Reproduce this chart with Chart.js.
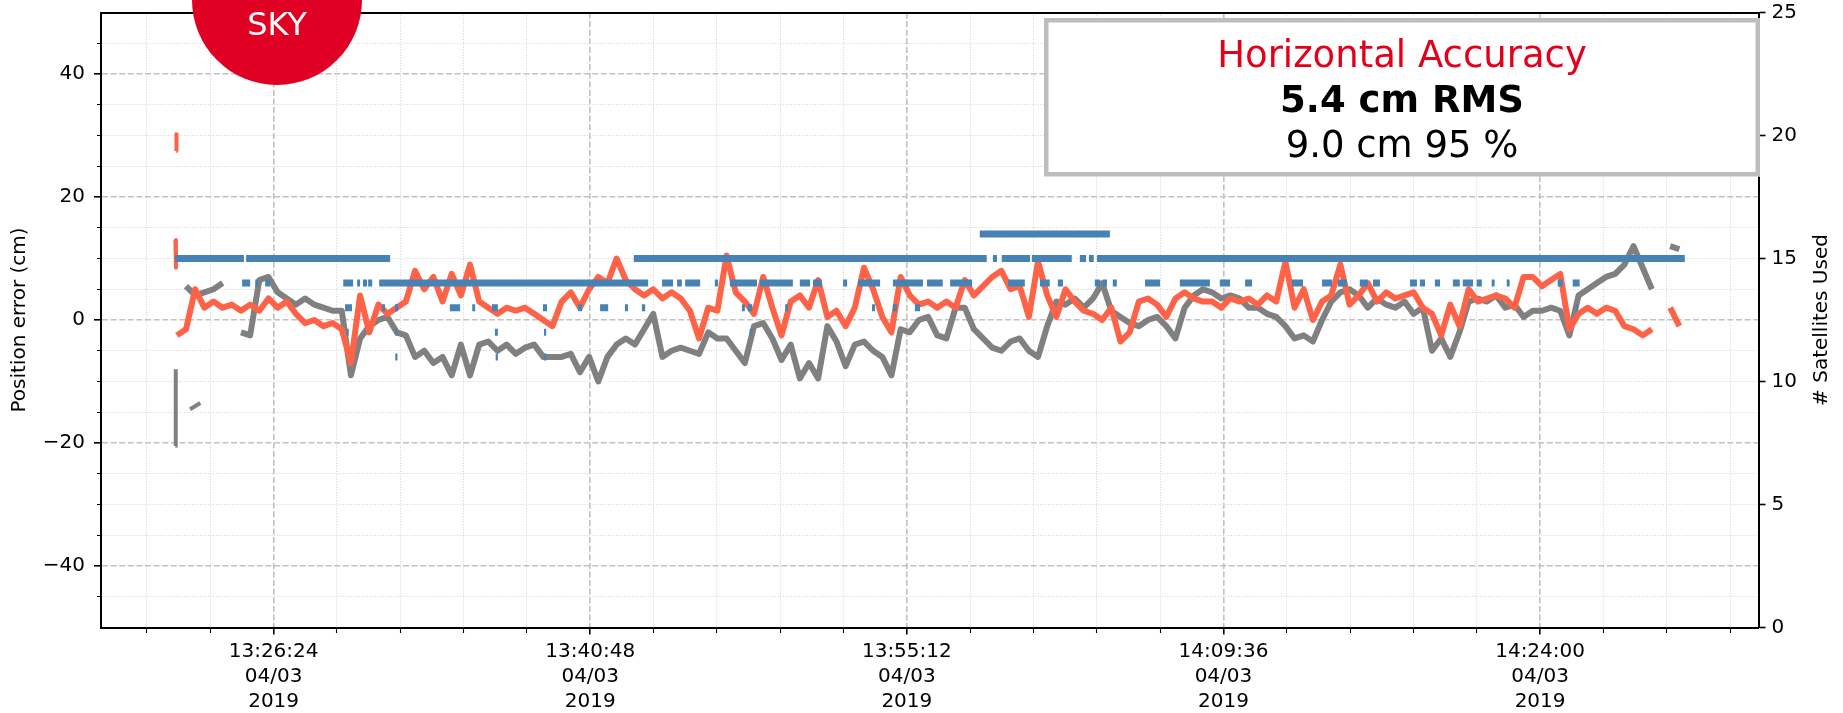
<!DOCTYPE html>
<html><head><meta charset="utf-8">
<script src="https://cdn.jsdelivr.net/npm/chart.js@4.4.1/dist/chart.umd.min.js"></script>
<style>html,body{margin:0;padding:0;background:#fff;}#wrap{position:relative;width:1843px;height:713px;}</style>
</head><body><div id="wrap"><canvas id="c"></canvas></div>
<script>
// ---------- data (time in seconds since midnight, 04/03/2019) ----------
const X_MIN = 47913, X_MAX = 52436;          // axis limits
const MAJOR_T0 = 48384, MAJOR_STEP = 864;    // 13:26:24, every 14:24
const MINOR_STEP = 172.8;
const dateLines = ['04/03', '2019'];
const yMajorTicks = [-40, -20, 0, 20, 40];
const yTickValues = [-45,-40,-35,-30,-25,-20,-15,-10,-5,0,5,10,15,20,25,30,35,40,45];
const satTickValues = [0, 5, 10, 15, 20, 25];

// sampled error series, one value every T_STEP seconds from T_START
const T_START = 48120, T_STEP = 25;
const grayErr = [
  null,5.5,4,4.5,5,6,null,-2,-2.5,6.5,
  7,4.5,3.5,2.5,3.5,2.5,2,1.5,1.5,-9,
  -3,-1,0,0.5,-2,-2.5,-6,-5,-7,-6,
  -9,-4,-9,-4,-3.5,-5,-4,-5.5,-4.5,-4,
  -6,-6,-6,-5.5,-8.5,-6,-10,-6,-4,-3,
  -4,-1.5,1,-6,-5,-4.5,-5,-5.5,-2,-3,
  -3,-5,-7,-1,-0.5,-3,-6.5,-4,-9.5,-7,
  -9.5,-1,-3.5,-7.5,-4,-3.5,-5,-6,-9,-1.5,
  -2,0,0.5,-2.5,-3,2,2,-1.5,-3,-4.5,
  -5,-3.5,-3,-5,-6,-1,3,2.5,3.5,2,
  3.5,6,1.5,0.5,-0.5,-1,0,0.5,-1,-3,
  2,4,5,4.5,3.5,4,3.5,2,2,1,
  0.5,-1,-3,-2.5,-3.5,0,3,4.5,5,4,
  2,3.5,2.5,2,3,1,2,-5,-3,-6,
  -2,3,3.5,3,4,2,2.5,0.5,1.5,1.5,
  2,1.5,-2.5,4,5,6,7,7.5,9,12,
  8.5,5,null,12,11.5
];
const orangeErr = [
  -2.5,-1.5,5,2,3,2,2.5,1.5,2.5,1.5,
  3.5,2,3,1,-0.5,0,-1,-0.5,-1.5,-7,
  4,-2,2.5,1,2,3,8,5,7,3,
  7.5,4,9,3,2,1,2,1.5,2,1,
  0,-1,3,4.5,2,5,7,6,10,6.5,
  5,4,5,3.5,4.5,3.5,1.5,-3,2,1.5,
  10.5,4.5,3,1,7,2,-2.5,3,4,2,
  6.5,0.5,1.5,-1,2,8.5,5,0.5,-2,7,
  4,2.5,3,2,3,2,6.5,4,5.5,7,
  8,5,5.5,0.5,9.5,4,0.5,5,3,1.5,
  1,0,2,-3.5,-2,3,3.5,2.5,0.5,3.5,
  4.5,3.5,3,3,2,3.5,3,3.5,2.5,4,
  3,9.5,2,5,0,3,4,9,2.5,4,
  6,3,4.5,3.5,4,4.5,2,1,-2.5,2.5,
  -1,5,3,3.5,4,3.5,2,7,7,5.5,
  6.5,7.5,-1.5,1,2,1,2,1.5,-1,-1.5,
  -2.5,-1.5,null,2,-1
];
// short isolated fragments at the start of the record [time, value]
const grayFragments = [[[48116,-20.5],[48117,-8]], [[48156,-14.5],[48184,-13.5]]];
const orangeFragments = [[[48118.5,27.5],[48119,30.5]], [[48116,13],[48117.5,8.5]]];

// satellites used: runs [start, end] at each count
const sat16 = [[50311,50666]];
const sat15 = [[48115,48303],[48309,48702],[49367,50330],[50347,50358],[50371,50448],[50453,50562],[50584,50601],[50609,50622],[50631,52235]];
const sat14 = [[48298,48320],[48334,48342],[48361,48374],[48574,48601],[48612,48620],[48628,48639],[48642,48653],[48672,49406],[49444,49474],[49485,49498],[49507,49548],[49588,49597],[49629,49703],[49711,49801],[49820,49848],[49856,49880],[49938,49949],[49979,50039],[50074,50156],[50167,50210],[50230,50290],[50388,50434],[50475,50502],[50524,50538],[50625,50639],[50647,50658],[50674,50685],[50762,50803],[50857,50939],[50966,50994],[51035,51054],[51163,51193],[51245,51272],[51288,51313],[51348,51370],[51384,51403],[51485,51504],[51512,51526],[51553,51567],[51602,51621],[51629,51657],[51667,51681],[51708,51716],[51749,51757],[51888,51902],[51929,51948]];
const sat13 = [[48579,48598],[48680,48688],[48715,48724],[48865,48893],[48926,48934],[48980,48996],[49119,49130],[49215,49226],[49275,49297],[49343,49351],[49389,49398],[49662,49670],[49678,49690],[49780,49788],[50017,50025],[50074,50085],[50134,50148],[51938,51943]];
const sat12 = [[48584,48589],[48716,48722],[48988,48996],[49122,49128],[49683,49689]];
const sat11 = [[48716,48722],[48990,48996],[49122,49128]];

// ---------- build datasets ----------
const FONT = "'DejaVu Sans', 'Liberation Sans', sans-serif";
Chart.defaults.font.family = FONT;
Chart.defaults.color = '#000';

const seriesPoints = arr => arr.map((v, i) => ({x: T_START + i * T_STEP, y: v}));
const fragmentPoints = frags => {
  const pts = [];
  frags.forEach(seg => { seg.forEach(([t, v]) => pts.push({x: t, y: v})); pts.push({x: seg[seg.length-1][0], y: null}); });
  return pts;
};
const satRuns = [];
[[16,sat16],[15,sat15],[14,sat14],[13,sat13],[12,sat12],[11,sat11]].forEach(([n, runs]) =>
  runs.forEach(([a, b]) => satRuns.push([a, b, n])));
satRuns.sort((p, q) => p[0] - q[0]);
const satPoints = [];
satRuns.forEach(([a, b, n]) => { satPoints.push({x: a, y: n}, {x: b, y: n}, {x: b, y: null}); });

const isMajorX = v => { const k = (v - MAJOR_T0) / MAJOR_STEP; return Math.abs(k - Math.round(k)) < 1e-6; };
const isMajorY = v => yMajorTicks.includes(v);
const pad2 = n => String(n).padStart(2, '0');
const hms = v => { const s = Math.round(v); return pad2(Math.floor(s/3600)) + ':' + pad2(Math.floor(s/60)%60) + ':' + pad2(s%60); };

const xTickValues = [];
for (let t = MAJOR_T0 - 3*MINOR_STEP; t <= X_MAX; t += MINOR_STEP) if (t >= X_MIN) xTickValues.push(Math.round(t*10)/10);

const noPad = s => { s.paddingTop = 0; s.paddingBottom = 0; s.paddingLeft = 0; s.paddingRight = 0; };

const lineBase = {pointRadius: 0, pointHoverRadius: 0, spanGaps: false, tension: 0, borderJoinStyle: 'round', borderCapStyle: 'butt', xAxisID: 'x', yAxisID: 'y', fill: false};

const overlay = {
  id: 'overlay',
  afterDraw(chart) {
    const ctx = chart.ctx, ca = chart.chartArea;
    // right axis title
    ctx.save();
    ctx.translate(chart.scales.y1.right - 21.5, (ca.top + ca.bottom) / 2);
    ctx.rotate(-Math.PI / 2);
    ctx.font = '20px ' + FONT; ctx.fillStyle = '#000'; ctx.textAlign = 'center'; ctx.textBaseline = 'middle';
    ctx.fillText('# Satellites Used', 0, 0);
    ctx.restore();
    // accuracy box
    const bx = ca.right + 1.5 - 716, by = ca.top + 5.5, bw = 716, bh = 158.5;
    ctx.save();
    ctx.fillStyle = '#fff'; ctx.fillRect(bx, by, bw, bh);
    ctx.strokeStyle = '#bdbdbd'; ctx.lineWidth = 4.5;
    ctx.strokeRect(bx + 2.25, by + 2.25, bw - 4.5, bh - 4.5);
    ctx.textAlign = 'center'; ctx.textBaseline = 'alphabetic';
    const cx = bx + bw / 2;
    ctx.fillStyle = '#E2001A'; ctx.font = '37px ' + FONT; ctx.fillText('Horizontal Accuracy', cx, by + 48.7);
    ctx.fillStyle = '#000'; ctx.font = 'bold 37px ' + FONT; ctx.fillText('5.4 cm RMS', cx, by + 93.7);
    ctx.font = '37px ' + FONT; ctx.fillText('9.0 cm 95 %', cx, by + 138.7);
    ctx.restore();
    // SKY badge
    ctx.save();
    const sx = ca.left + 176;
    ctx.fillStyle = '#E00024';
    ctx.beginPath(); ctx.arc(sx, 0, 85, 0, Math.PI * 2); ctx.fill();
    ctx.fillStyle = '#fff'; ctx.font = '32px ' + FONT; ctx.textAlign = 'center'; ctx.textBaseline = 'alphabetic';
    ctx.fillText('SKY', sx, 35);
    ctx.restore();
  }
};

new Chart(document.getElementById('c'), {
  type: 'line',
  data: {
    datasets: [
      Object.assign({}, lineBase, {label: '# Satellites Used', data: satPoints, borderColor: '#4682B4', borderWidth: 7, yAxisID: 'y1', order: 0, borderJoinStyle: 'miter'}),
      Object.assign({}, lineBase, {label: 'Error B', data: seriesPoints(orangeErr), borderColor: '#FF6347', borderWidth: 6, order: 1}),
      Object.assign({}, lineBase, {label: 'Error B start', data: fragmentPoints(orangeFragments), borderColor: '#FF6347', borderWidth: 4, order: 1}),
      Object.assign({}, lineBase, {label: 'Error A', data: seriesPoints(grayErr), borderColor: '#808080', borderWidth: 6, order: 2}),
      Object.assign({}, lineBase, {label: 'Error A start', data: fragmentPoints(grayFragments), borderColor: '#808080', borderWidth: 4, order: 2})
    ]
  },
  options: {
    responsive: true, maintainAspectRatio: false, animation: false, events: [],
    layout: {padding: 0},
    plugins: {legend: {display: false}, tooltip: {enabled: false}, title: {display: false}},
    scales: {
      x: {
        type: 'linear', position: 'bottom', min: X_MIN, max: X_MAX, bounds: 'data',
        afterBuildTicks: s => { s.ticks = xTickValues.map(v => ({value: v})); },
        afterFit: s => { s.height = 85.5; noPad(s); },
        ticks: {
          autoSkip: false, maxRotation: 0, minRotation: 0, padding: 5, color: '#000',
          font: {size: 20, lineHeight: 1.25},
          callback: v => isMajorX(v) ? [hms(v)].concat(dateLines) : ''
        },
        grid: {
          display: true, drawOnChartArea: true, drawTicks: true, tickLength: 7,
          color: c => (c.tick && isMajorX(c.tick.value)) ? '#c2c2c2' : '#d4d4d4',
          lineWidth: c => (c.tick && isMajorX(c.tick.value)) ? 1.6 : 1,
          tickColor: '#000',
          tickWidth: c => (c.tick && isMajorX(c.tick.value)) ? 1.6 : 1.1,
          tickBorderDash: c => (c.tick && isMajorX(c.tick.value)) ? [] : [4, 100]
        },
        border: {display: true, color: '#000', width: 2,
          dash: c => c.tick ? (isMajorX(c.tick.value) ? [6, 2.6] : [1, 1.65]) : []}
      },
      xTop: {
        type: 'linear', position: 'top', min: X_MIN, max: X_MAX,
        afterFit: s => { s.height = 12.5; noPad(s); },
        ticks: {display: false}, grid: {display: false, drawTicks: false},
        border: {display: true, color: '#000', width: 2}
      },
      y: {
        type: 'linear', position: 'left', min: -50, max: 50, bounds: 'data',
        afterBuildTicks: s => { s.ticks = yTickValues.map(v => ({value: v})); },
        afterFit: s => { s.width = 101; noPad(s); },
        title: {display: true, text: 'Position error (cm)', color: '#000', font: {size: 20, lineHeight: 1.2}, padding: {top: 8, bottom: 0}},
        ticks: {
          autoSkip: false, padding: 9, color: '#000', font: {size: 20},
          callback: v => isMajorY(v) ? (v < 0 ? '\u2212' + Math.abs(v) : String(v)) : ''
        },
        grid: {
          display: true, drawOnChartArea: true, drawTicks: true, tickLength: 7,
          color: c => (c.tick && isMajorY(c.tick.value)) ? '#c2c2c2' : '#d4d4d4',
          lineWidth: c => (c.tick && isMajorY(c.tick.value)) ? 1.6 : 1,
          tickColor: '#000',
          tickWidth: c => (c.tick && isMajorY(c.tick.value)) ? 1.6 : 1.1,
          tickBorderDash: c => (c.tick && isMajorY(c.tick.value)) ? [] : [0, 3, 4, 100]
        },
        border: {display: true, color: '#000', width: 2,
          dash: c => c.tick ? (isMajorY(c.tick.value) ? [6, 2.6] : [1, 1.65]) : []}
      },
      y1: {
        type: 'linear', position: 'right', min: 0, max: 25, bounds: 'data',
        afterBuildTicks: s => { s.ticks = satTickValues.map(v => ({value: v})); },
        afterFit: s => { s.width = 84.5; noPad(s); },
        ticks: {autoSkip: false, padding: 6, color: '#000', font: {size: 20}},
        grid: {display: true, drawOnChartArea: false, drawTicks: true, tickLength: 7, tickColor: '#000', tickWidth: 1.6},
        border: {display: true, color: '#000', width: 2}
      }
    }
  },
  plugins: [overlay]
});
</script></body></html>
